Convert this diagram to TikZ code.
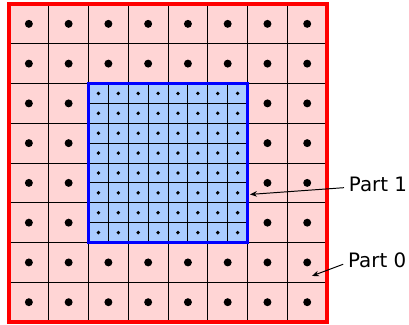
\documentclass[tikz,border=0pt]{standalone}
\usepackage{fontspec}
\setmainfont{DejaVu Sans}
\usetikzlibrary{arrows.meta}
\definecolor{partzero}{RGB}{255,213,213}
\definecolor{partone}{RGB}{170,204,255}
\begin{document}
\begin{tikzpicture}[scale=1.0, >={Stealth[length=5pt,width=4pt]}]
  \useasboundingbox (-0.226,-0.05) rectangle (10.06,8.10);

  % Part 0: coarse cells
  \fill[partzero] (0,0) rectangle (8,8);
  \draw[black, line width=0.7pt] (0,0) grid[step=1] (8,8);
  \foreach \i in {0,...,7} {
    \foreach \j in {0,...,7} {
      \fill[black] (\i+0.5,\j+0.5) circle (0.1);
    }
  }

  % Part 1: refined cells
  \fill[partone] (2,2) rectangle (6,6);
  \draw[black, line width=0.7pt] (2,2) grid[step=0.5] (6,6);
  \foreach \i in {0,...,7} {
    \foreach \j in {0,...,7} {
      \fill[black] (2.25+\i*0.5,2.25+\j*0.5) circle (0.048);
    }
  }

  % Borders
  \draw[blue, line width=2.5pt] (2,2) rectangle (6,6);
  \draw[red, line width=2.5pt] (0,0) rectangle (8,8);

  % Labels
  \node[font=\fontsize{14.2}{16}\selectfont] (partA) at (9.28,3.45) {Part 1};
  \node[font=\fontsize{14.2}{16}\selectfont] (partB) at (9.26,1.56) {Part 0};
  \coordinate (tipA) at (6.06,3.21);
  \coordinate (tipB) at (7.62,1.16);
  \draw[->, line width=0.7pt] ([yshift=-2pt]partA.west) -- (tipA);
  \draw[->, line width=0.7pt] ([yshift=-3pt]partB.west) -- (tipB);
\end{tikzpicture}
\end{document}
